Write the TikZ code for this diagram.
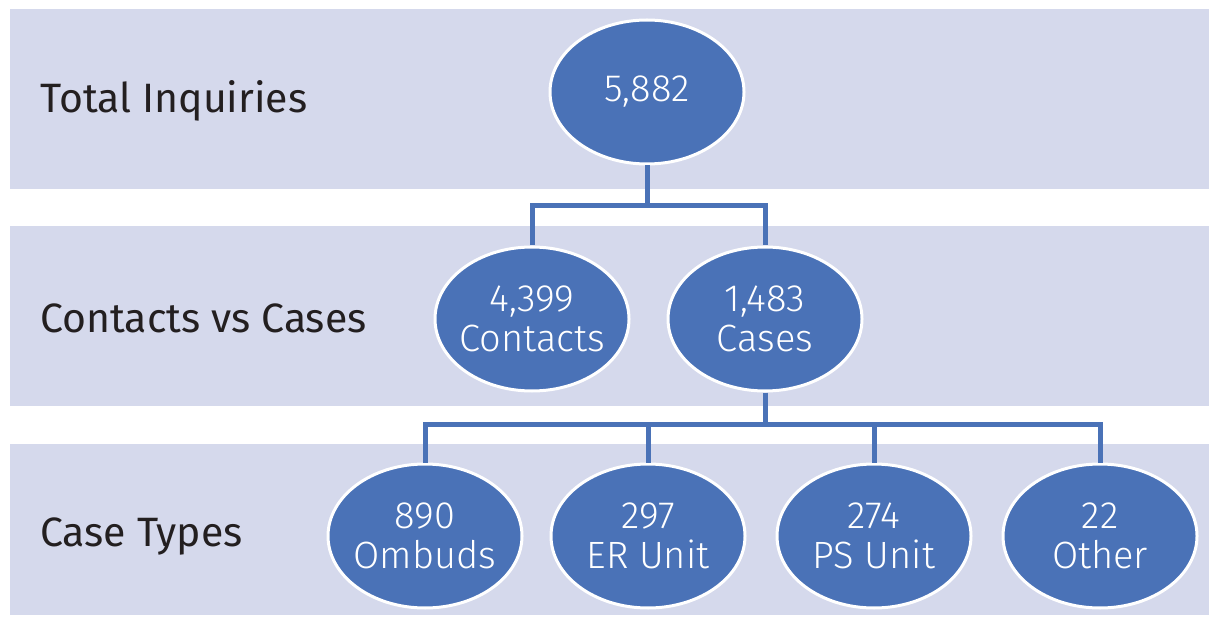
\documentclass[tikz,border=0pt]{standalone}
\usepackage{fontspec}
\setmainfont{Fira Sans}
\newfontfamily\lightfont{Fira Sans Light}
\usetikzlibrary{shapes.geometric}
\definecolor{bandcol}{HTML}{D5D9EC}
\definecolor{nodeblue}{HTML}{4A72B7}
\definecolor{labcol}{HTML}{231F20}
\tikzset{
  band/.style={fill=bandcol, draw=none},
  oval/.style={ellipse, fill=nodeblue, draw=white, line width=3pt,
    minimum width=194pt, minimum height=144pt, inner sep=-25pt,
    font=\lightfont\fontsize{38}{40}\selectfont, text=white, align=center},
  conn/.style={draw=nodeblue, line width=5pt, line join=miter},
  rowlabel/.style={anchor=west, inner sep=0pt, text=labcol,
    font=\fontsize{41}{44}\selectfont}
}
\begin{document}
\begin{tikzpicture}[x=1pt, y=-1pt]
\useasboundingbox (0,0) rectangle (1209,617);
% bands
\fill[band] (10,9) rectangle (1209,189);
\fill[band] (10,226) rectangle (1209,406);
\fill[band] (10,444) rectangle (1209,615);
% row labels
\node[rowlabel] (l1) at (40,101) {Total Inquiries};
\node[rowlabel] (l2) at (40,318) {Contacts vs Cases};
\node[rowlabel] (l3) at (40,536) {Case Types};
% junctions
\coordinate (j1) at (647,206);
\coordinate (j2) at (765,424);
% nodes
\node[oval] (tot) at (647,92) {5,882};
\node[oval] (con) at (532,319) {4,399\\Contacts};
\node[oval] (cas) at (765,319) {1,483\\Cases};
\node[oval] (omb) at (425,536) {890\\Ombuds};
\node[oval] (er)  at (648,536) {297\\ER Unit};
\node[oval] (ps)  at (874,536) {274\\PS Unit};
\node[oval] (oth) at (1100,536) {22\\Other};
% connectors
\draw[conn] (tot.south) -- (j1) -| (con.north);
\draw[conn] (j1) -| (cas.north);
\draw[conn] (cas.south) -- (j2) -| (omb.north);
\draw[conn] (j2) -| (er.north);
\draw[conn] (j2) -| (ps.north);
\draw[conn] (j2) -| (oth.north);
\end{tikzpicture}
\end{document}
